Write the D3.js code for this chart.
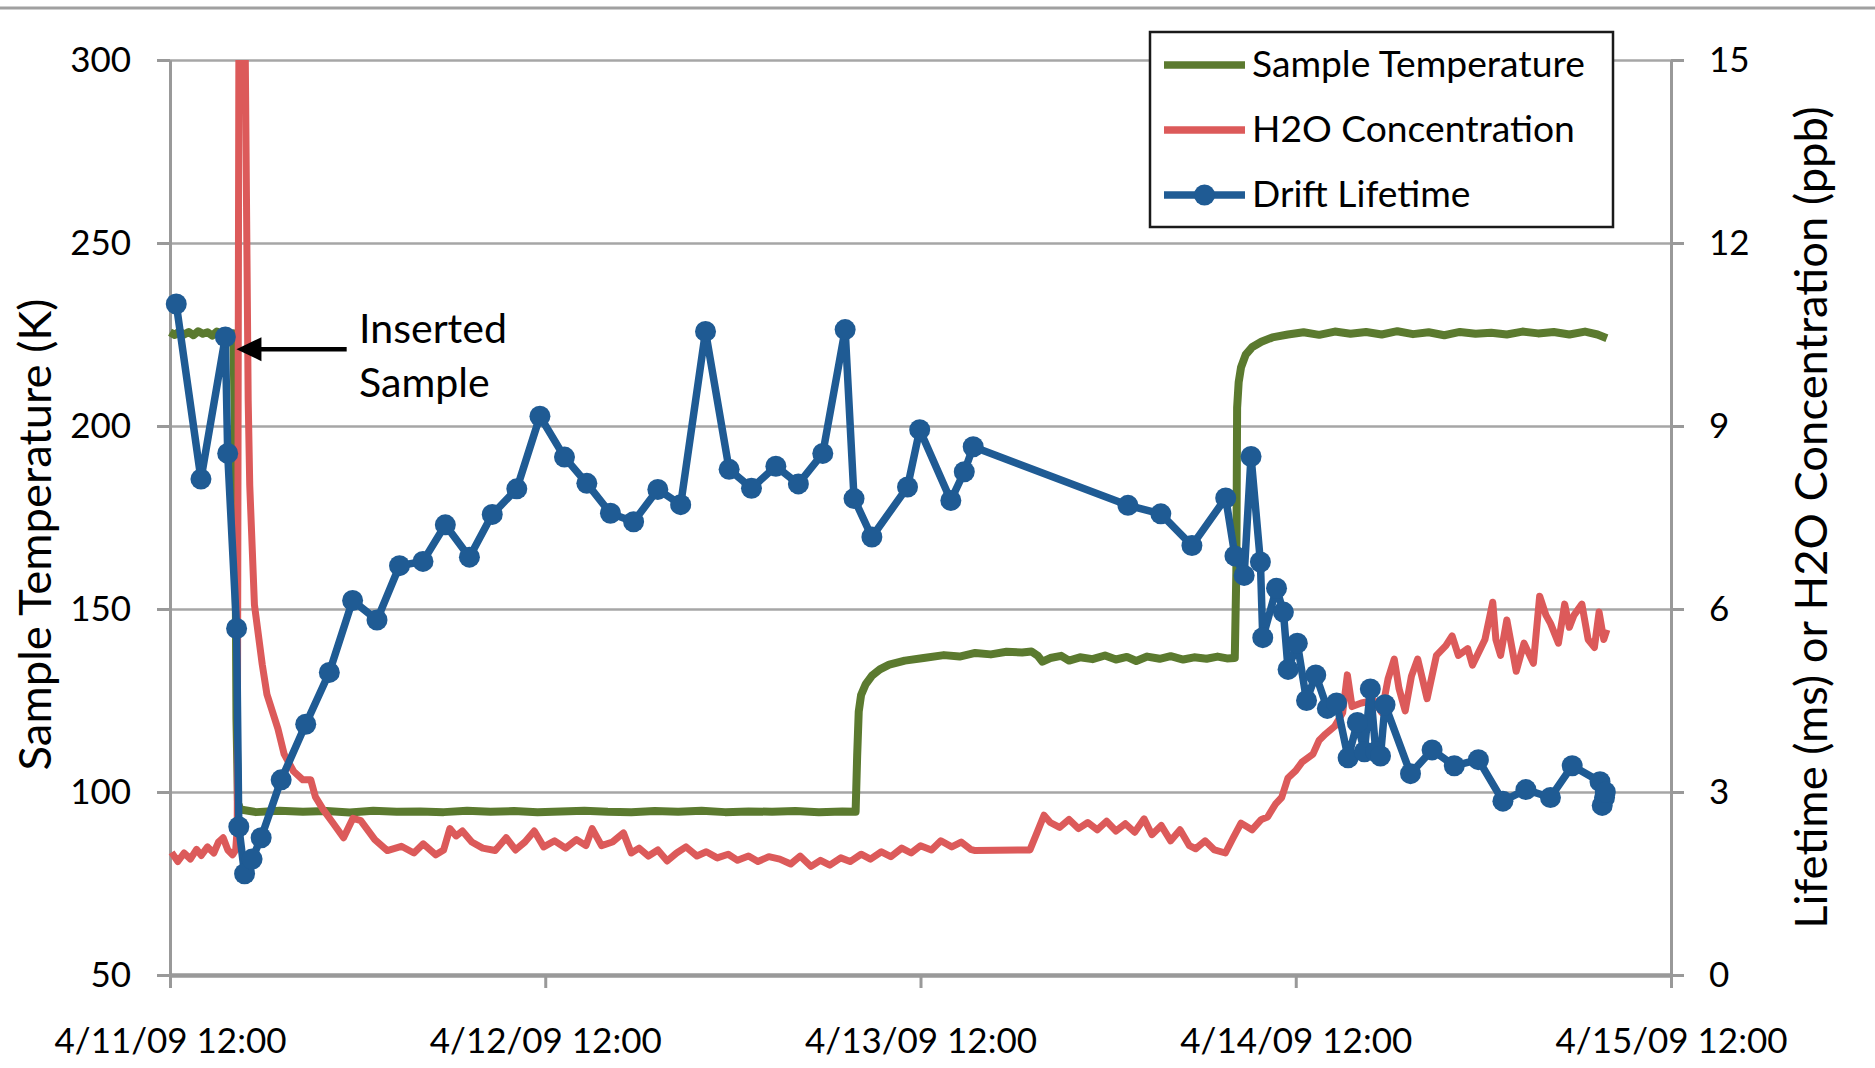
<!DOCTYPE html>
<html>
<head>
<meta charset="utf-8">
<script src="https://cdn.jsdelivr.net/npm/d3@7"></script>
<style>
    body { margin: 0; background: #fff; }
    text { font-family: Lato, "Open Sans", sans-serif; fill: #000; }
</style>
</head>
<body>
<div id="container"></div>
<script>
// Time axis: everything is stored in hours after 4/11/09 12:00
const startTime = new Date(2009, 3, 11, 12, 0);
const HOUR = 3600 * 1000;

const dateTicks = ["4/11/09 12:00", "4/12/09 12:00", "4/13/09 12:00", "4/14/09 12:00", "4/15/09 12:00"];
const tempTicks = [50, 100, 150, 200, 250, 300];
const rightTicks = [0, 3, 6, 9, 12, 15];
const seriesNames = ["Sample Temperature", "H2O Concentration", "Drift Lifetime"];

// Sample Temperature (K), left axis
const tempHours = [0, 0.3, 0.6, 0.9, 1.2, 1.5, 1.8, 2.1, 2.4, 2.7, 3.0, 3.3, 3.6, 3.9, 4.05,
    4.15, 4.25, 4.35, 4.5,
    5.5, 7, 8.5, 10, 11.5, 13, 14.5, 16, 17.5, 19, 20.5, 22, 23.5, 25, 26.5, 28, 29.5, 31, 32.5, 34, 35.5, 37, 38.5, 40, 41.5, 43, 43.85,
    43.95, 44.05, 44.2, 44.5, 44.9, 45.4, 46.0, 47.0, 48.2, 49.5, 50.5, 51.5, 52.5, 53.5, 54.5, 55.1,
    55.5, 55.8, 56.3, 57, 57.5, 58.2, 59, 59.8, 60.5, 61.2, 61.8, 62.5, 63.3, 64, 64.8, 65.5, 66.3, 67, 67.6, 68.1,
    68.2, 68.25, 68.35, 68.5, 68.8, 69.2, 69.8, 70.5, 71.5,
    72.5, 73.5, 74.5, 75.5, 76.5, 77.5, 78.5, 79.5, 80.5, 81.5, 82.5, 83.5, 84.5, 85.5, 86.5, 87.5, 88.5, 89.5, 90.5,
    91.3, 91.9];
const tempK = [225.6, 224.9, 225.8, 225.0, 225.7, 224.8, 225.9, 225.2, 225.6, 224.7, 225.8, 225.1, 225.7, 225.0, 225.3,
    200, 120, 97, 95.2,
    94.5, 94.9, 94.6, 94.8, 94.4, 94.9, 94.6, 94.7, 94.5, 94.9, 94.6, 94.8, 94.5, 94.7, 94.9, 94.6, 94.5, 94.8, 94.6, 94.9, 94.5, 94.7, 94.6, 94.8, 94.5, 94.7, 94.6,
    110, 122, 126.5, 129.5, 131.8, 133.5, 134.8, 135.9, 136.6, 137.4, 137.0, 138.0, 137.6, 138.3, 138.1, 138.4,
    137.2, 135.6, 136.6, 137.2, 135.9, 136.8, 136.3, 137.3, 136.2, 136.9, 135.8, 137.0, 136.4, 137.1, 136.2, 136.8, 136.4, 137.0, 136.5, 136.6,
    160, 205, 212, 216, 219.5, 221.5, 223, 224.2, 225,
    225.6, 224.9, 225.8, 225.2, 225.7, 225.0, 225.9, 225.1, 225.6, 224.8, 225.7, 225.2, 225.5, 225.0, 225.8, 225.3, 225.7, 225.0, 225.8,
    225.0, 224.0];

// H2O Concentration (ppb), right axis (spike at insertion runs off the top)
const h2oHours = [0.1, 0.5, 0.9, 1.3, 1.7, 2.0, 2.4, 2.8, 3.1, 3.4, 3.7, 4.0, 4.2, 4.3, 4.42, 4.75,
    5.0, 5.1, 5.4, 5.9, 6.2, 6.9, 7.3, 7.9, 8.5, 9.0, 9.3, 9.8, 10.4, 11.1, 11.7, 12.2, 13.1, 13.9, 14.8, 15.6, 16.2, 17.0,
    17.5, 17.9, 18.3, 18.7, 19.3, 20.0, 20.8, 21.5, 22.1, 22.7, 23.3, 23.9, 24.6, 25.3, 26.0, 26.6, 27.0, 27.6, 28.3, 29.0, 29.5, 30.0, 30.6, 31.2, 31.8,
    32.4, 33.0, 33.7, 34.3, 35.0, 35.7, 36.3, 37.0, 37.6, 38.3, 39.0, 39.7, 40.3, 41.0, 41.6, 42.2, 42.9, 43.5, 44.2, 44.8, 45.5, 46.1, 46.8, 47.4, 48.0, 48.7, 49.3, 50.0, 50.6, 51.2, 51.5,
    55.0, 55.4, 55.9, 56.3, 56.9, 57.5, 58.1, 58.7, 59.3, 59.9, 60.5, 61.1, 61.7, 62.3, 62.8, 63.4, 64.0, 64.6, 65.2, 65.6, 66.2, 66.8, 67.5, 68.0,
    68.5, 69.2, 69.8, 70.2, 70.7, 71.1, 71.5, 72.0, 72.4, 73.1, 73.5, 73.9, 74.5, 75.0, 75.3, 75.6, 76.2, 77.0, 77.5, 77.9,
    78.3, 78.6, 79.0, 79.4, 79.8, 80.4, 81.0, 81.6, 82.0, 82.4, 83.0, 83.3, 84.1, 84.6, 84.8, 85.1, 85.5, 86.1, 86.6, 87.2,
    87.6, 88.0, 88.3, 88.8, 89.2, 89.5, 89.8, 90.3, 90.7, 91.1, 91.4, 91.7, 91.9];
const h2oPpb = [2.01, 1.86, 2.0, 1.9, 2.06, 1.96, 2.1, 2.0, 2.18, 2.25, 2.05, 1.97, 2.05, 2.4, 17, 17,
    9.43, 8.03, 6.07, 5.09, 4.6, 4.04, 3.62, 3.34, 3.2, 3.2, 2.92, 2.71, 2.5, 2.25, 2.57, 2.53, 2.22, 2.04, 2.11, 2.0, 2.15, 1.97,
    2.05, 2.4, 2.28, 2.36, 2.18, 2.08, 2.04, 2.25, 2.05, 2.18, 2.36, 2.1, 2.2, 2.08, 2.22, 2.12, 2.4, 2.12, 2.18, 2.33, 2.0, 2.08, 1.95, 2.05, 1.87,
    2.0, 2.1, 1.95, 2.02, 1.92, 1.98, 1.88, 1.95, 1.86, 1.94, 1.9, 1.82, 1.95, 1.78, 1.88, 1.8, 1.92, 1.86, 1.98, 1.9, 2.02, 1.94, 2.08, 2.0, 2.12, 2.05, 2.2, 2.1, 2.18, 2.06, 2.04,
    2.05, 2.3, 2.62, 2.5, 2.42, 2.55, 2.4, 2.5, 2.38, 2.52, 2.36, 2.48, 2.34, 2.56, 2.3, 2.45, 2.2, 2.38, 2.12, 2.07, 2.2, 2.05, 2.0, 2.25,
    2.49, 2.38, 2.55, 2.59, 2.8, 2.91, 3.23, 3.35, 3.49, 3.62, 3.85, 3.95, 4.08, 4.3, 4.92, 4.40, 4.46, 4.5, 4.3, 4.85,
    5.18, 4.7, 4.33, 4.9, 5.18, 4.53, 5.24, 5.40, 5.56, 5.24, 5.35, 5.08, 5.50, 6.11, 5.5, 5.24, 5.82, 4.98, 5.44, 5.11,
    6.21, 5.9, 5.76, 5.44, 6.08, 5.7, 5.9, 6.08, 5.5, 5.37, 5.95, 5.5, 5.66];

// Drift Lifetime (ms), right axis
const lifeHours = [0.4, 1.98, 3.54, 3.69, 4.26, 4.4, 4.77, 5.25, 5.83, 7.11,
    8.68, 10.19, 11.68, 13.24, 14.68, 16.18, 17.61, 19.15, 20.61, 22.18,
    23.66, 25.23, 26.66, 28.17, 29.65, 31.2, 32.66, 34.25, 35.76, 37.19,
    38.75, 40.19, 41.75, 43.18, 43.75, 44.89, 47.17, 47.95, 49.94, 50.8,
    51.37, 61.27, 63.37, 65.36, 67.52, 68.11, 68.7, 69.14, 69.74, 69.89,
    70.77, 71.21, 71.51, 72.1, 72.69, 73.28, 74.02, 74.61, 75.35, 75.94,
    76.39, 76.77, 77.12, 77.42, 77.71, 79.34, 80.72, 82.14, 83.68, 85.25,
    86.72, 88.29, 89.68, 91.46, 91.75, 91.6, 91.8];
const lifeMs = [11.0, 8.13, 10.46, 8.55, 5.68, 2.43, 1.66, 1.9, 2.25, 3.2,
    4.11, 4.96, 6.14, 5.82, 6.71, 6.78, 7.38, 6.85, 7.55, 7.97,
    9.16, 8.49, 8.06, 7.57, 7.43, 7.96, 7.71, 10.55, 8.29, 7.98,
    8.34, 8.05, 8.55, 10.58, 7.81, 7.18, 8.0, 8.94, 7.78, 8.25,
    8.66, 7.7, 7.56, 7.04, 7.82, 6.87, 6.55, 8.5, 6.77, 5.53,
    6.34, 5.95, 5.01, 5.44, 4.5, 4.92, 4.37, 4.46, 3.56, 4.14,
    3.66, 4.69, 3.66, 3.59, 4.43, 3.3, 3.69, 3.43, 3.53, 2.85,
    3.04, 2.91, 3.43, 3.17, 2.91, 2.78, 3.0];

const width = 1875;
const height = 1068;
const plot = {left: 170, right: 1671, top: 60, bottom: 975};
const colors = {temp: "#5b7a2f", h2o: "#dc5a5a", life: "#1f5b94", grid: "#a6a6a6"};

const toTime = h => new Date(startTime.getTime() + h * HOUR);
const pairs = (hs, vs) => hs.map((h, i) => ({t: toTime(h), v: vs[i]}));

const x = d3.scaleTime()
    .domain([startTime, toTime(24 * (dateTicks.length - 1))])
    .range([plot.left, plot.right]);
const yLeft = d3.scaleLinear().domain([50, 300]).range([plot.bottom, plot.top]);
const yRight = d3.scaleLinear().domain([0, 15]).range([plot.bottom, plot.top]);

const svg = d3.select("#container")
    .append("svg")
    .attr("width", width)
    .attr("height", height);

// pick a font size so that a text comes out at a given width
function fitFont(text, target) {
    const probe = svg.append("text").attr("font-size", 100).text(text);
    const w = probe.node().getComputedTextLength();
    probe.remove();
    return 100 * target / w;
}
const tickFont = fitFont(dateTicks[0], 232);
const legendFont = fitFont(seriesNames[0], 333);
const titleFont = fitFont("Sample Temperature (K)", 472);
const noteFont = fitFont("Inserted", 148);

// thin rule along the top of the picture
svg.append("line")
    .attr("x1", 0).attr("x2", width)
    .attr("y1", 8).attr("y2", 8)
    .attr("stroke", "#a0a0a0")
    .attr("stroke-width", 3);

// gridlines
svg.append("g")
    .attr("transform", `translate(${plot.left},0)`)
    .call(d3.axisLeft(yLeft).tickValues(tempTicks).tickSize(-(plot.right - plot.left)).tickFormat(""))
    .call(g => g.select(".domain").remove())
    .call(g => g.selectAll("line").attr("stroke", colors.grid).attr("stroke-width", 2.5));

function styleAxis(g, fs) {
    g.attr("font-family", null).attr("font-size", null);
    g.selectAll("line").attr("stroke", "#999").attr("stroke-width", 3);
    g.select(".domain").attr("stroke", "#999").attr("stroke-width", 3);
    g.selectAll("text").attr("font-size", fs).attr("fill", "#000");
}

svg.append("g")
    .attr("transform", `translate(${plot.left},0)`)
    .call(d3.axisLeft(yLeft).tickValues(tempTicks).tickSize(13).tickSizeOuter(0).tickPadding(26))
    .call(g => styleAxis(g, tickFont));

svg.append("g")
    .attr("transform", `translate(${plot.right},0)`)
    .call(d3.axisRight(yRight).tickValues(rightTicks).tickSize(13).tickSizeOuter(0).tickPadding(25))
    .call(g => styleAxis(g, tickFont));

svg.append("g")
    .attr("transform", `translate(0,${plot.bottom})`)
    .call(d3.axisBottom(x)
        .tickValues(dateTicks.map((d, i) => toTime(24 * i)))
        .tickFormat((d, i) => dateTicks[i])
        .tickSize(13).tickSizeOuter(0).tickPadding(40))
    .call(g => styleAxis(g, tickFont))
    .call(g => g.select(".domain").attr("stroke-width", 4.5));

// axis titles
svg.append("text")
    .attr("transform", `translate(51,${(plot.top + plot.bottom) / 2 + 17}) rotate(-90)`)
    .attr("text-anchor", "middle")
    .attr("font-size", titleFont)
    .text("Sample Temperature (K)");

svg.append("text")
    .attr("transform", `translate(1827,${(plot.top + plot.bottom) / 2}) rotate(-90)`)
    .attr("text-anchor", "middle")
    .attr("font-size", titleFont)
    .text("Lifetime (ms) or H2O Concentration (ppb)");

// clip the water spike at the top of the plot
svg.append("clipPath").attr("id", "plot-clip")
    .append("rect")
    .attr("x", 0).attr("y", plot.top)
    .attr("width", width).attr("height", plot.bottom - plot.top);

const lineLeft = d3.line().x(d => x(d.t)).y(d => yLeft(d.v));
const lineRight = d3.line().x(d => x(d.t)).y(d => yRight(d.v));

svg.append("path")
    .datum(pairs(tempHours, tempK))
    .attr("fill", "none")
    .attr("stroke", colors.temp)
    .attr("stroke-width", 8)
    .attr("stroke-linejoin", "round")
    .attr("d", lineLeft);

svg.append("path")
    .datum(pairs(h2oHours, h2oPpb))
    .attr("clip-path", "url(#plot-clip)")
    .attr("fill", "none")
    .attr("stroke", colors.h2o)
    .attr("stroke-width", 7)
    .attr("stroke-linejoin", "round")
    .attr("d", lineRight);

const life = pairs(lifeHours, lifeMs);
svg.append("path")
    .datum(life)
    .attr("fill", "none")
    .attr("stroke", colors.life)
    .attr("stroke-width", 7.5)
    .attr("stroke-linejoin", "round")
    .attr("d", lineRight);

svg.append("g")
    .selectAll("circle")
    .data(life)
    .join("circle")
    .attr("cx", d => x(d.t))
    .attr("cy", d => yRight(d.v))
    .attr("r", 10.5)
    .attr("fill", colors.life);

// "Inserted Sample" note with arrow
const tipX = x(toTime(4.25));
const tipY = yLeft(221);
const tailX = x(toTime(11.3));
svg.append("line")
    .attr("x1", tipX + 20).attr("x2", tailX)
    .attr("y1", tipY).attr("y2", tipY)
    .attr("stroke", "#000")
    .attr("stroke-width", 4.5);
svg.append("path")
    .attr("d", `M${tipX},${tipY}L${tipX + 25},${tipY - 12}L${tipX + 25},${tipY + 12}Z`)
    .attr("fill", "#000");
svg.append("text")
    .attr("x", 359).attr("y", 343)
    .attr("font-size", noteFont)
    .text("Inserted");
svg.append("text")
    .attr("x", 359).attr("y", 397)
    .attr("font-size", noteFont)
    .text("Sample");

// legend
const legend = svg.append("g");
legend.append("rect")
    .attr("x", 1150).attr("y", 32)
    .attr("width", 463).attr("height", 195)
    .attr("fill", "#fff")
    .attr("stroke", "#1a1a1a")
    .attr("stroke-width", 2.5);

const legendColors = [colors.temp, colors.h2o, colors.life];
seriesNames.forEach((name, i) => {
    const ly = 65 + i * 65;
    legend.append("line")
        .attr("x1", 1164).attr("x2", 1245)
        .attr("y1", ly).attr("y2", ly)
        .attr("stroke", legendColors[i])
        .attr("stroke-width", 7.5);
    if (i === 2) {
        legend.append("circle")
            .attr("cx", 1204.5).attr("cy", ly)
            .attr("r", 10.5)
            .attr("fill", colors.life);
    }
    legend.append("text")
        .attr("x", 1252).attr("y", ly + 11.5)
        .attr("font-size", legendFont)
        .text(name);
});
</script>
</body>
</html>
